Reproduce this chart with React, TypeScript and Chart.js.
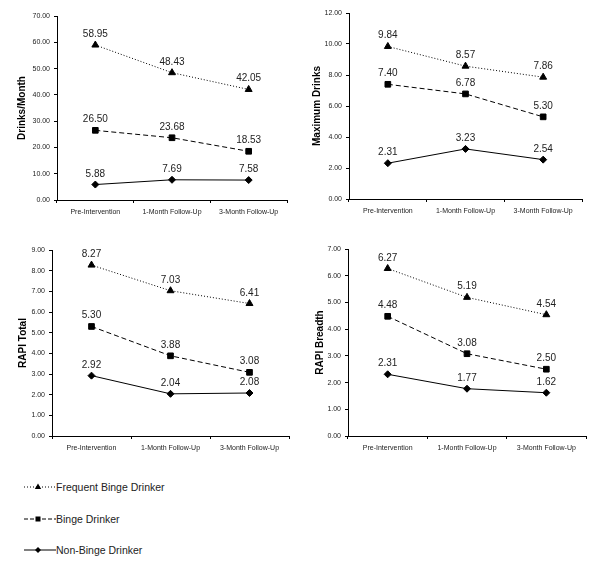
import React, { useEffect, useRef } from "react";
import { Chart, registerables } from "chart.js";
Chart.register(...registerables);

const categories = ["Pre-Intervention", "1-Month Follow-Up", "3-Month Follow-Up"];
const seriesNames = ["Frequent Binge Drinker", "Binge Drinker", "Non-Binge Drinker"];

const drinksFrequent = [58.95, 48.43, 42.05];
const drinksBinge = [26.5, 23.68, 18.53];
const drinksNon = [5.88, 7.69, 7.58];

const maxFrequent = [9.84, 8.57, 7.86];
const maxBinge = [7.4, 6.78, 5.3];
const maxNon = [2.31, 3.23, 2.54];

const rapiTotalFrequent = [8.27, 7.03, 6.41];
const rapiTotalBinge = [5.3, 3.88, 3.08];
const rapiTotalNon = [2.92, 2.04, 2.08];

const rapiBreadthFrequent = [6.27, 5.19, 4.54];
const rapiBreadthBinge = [4.48, 3.08, 2.5];
const rapiBreadthNon = [2.31, 1.77, 1.62];

const panelTitles = ["Drinks/Month", "Maximum Drinks", "RAPI Total", "RAPI Breadth"];
const panelMax = [70, 12, 9, 7];
const panelStep = [10, 2, 1, 1];
const panelData = [
  [drinksFrequent, drinksBinge, drinksNon],
  [maxFrequent, maxBinge, maxNon],
  [rapiTotalFrequent, rapiTotalBinge, rapiTotalNon],
  [rapiBreadthFrequent, rapiBreadthBinge, rapiBreadthNon],
];

// layout: canvas box and inner geometry (relative to canvas)
const panelLayout = [
  { left: 0, top: 0, w: 300, h: 230, yW: 57, xH: 30, padTop: 16, padRight: 13, titlePad: 16 },
  { left: 300, top: 0, w: 300, h: 230, yW: 49, xH: 31, padTop: 13, padRight: 18, titlePad: 11 },
  { left: 0, top: 235, w: 300, h: 230, yW: 52, xH: 29, padTop: 15, padRight: 11, titlePad: 17 },
  { left: 300, top: 235, w: 300, h: 230, yW: 48, xH: 29, padTop: 14, padRight: 14, titlePad: 14 },
];

const FONT = '"Liberation Sans", Arial, sans-serif';

const seriesStyle = [
  { dash: [1, 2], point: "triangle", radius: 4 },
  { dash: [5, 3], point: "rect", radius: 4 },
  { dash: [], point: "rectRot", radius: 3.5 },
];

const valueLabels = {
  id: "valueLabels",
  afterDatasetsDraw(chart: any) {
    const ctx = chart.ctx;
    ctx.save();
    ctx.font = `10px ${FONT}`;
    ctx.fillStyle = "#222";
    ctx.textAlign = "center";
    ctx.textBaseline = "alphabetic";
    chart.data.datasets.forEach((ds: any, i: number) => {
      chart.getDatasetMeta(i).data.forEach((pt: any, j: number) => {
        ctx.fillText(Number(ds.data[j]).toFixed(2), pt.x, pt.y - 8);
      });
    });
    ctx.restore();
  },
};

function Panel({ idx }: { idx: number }) {
  const ref = useRef<HTMLCanvasElement>(null);
  const lay = panelLayout[idx];
  useEffect(() => {
    const chart = new Chart(ref.current as HTMLCanvasElement, {
      type: "line",
      data: {
        labels: categories,
        datasets: panelData[idx].map((d, i) => ({
          label: seriesNames[i],
          data: d,
          borderColor: "#000",
          borderWidth: 1,
          borderDash: seriesStyle[i].dash,
          pointStyle: seriesStyle[i].point as any,
          pointRadius: seriesStyle[i].radius,
          pointBackgroundColor: "#000",
          pointBorderColor: "#000",
          pointBorderWidth: 1,
          tension: 0,
        })),
      },
      options: {
        responsive: false,
        animation: false,
        devicePixelRatio: 1,
        layout: { padding: { left: 0, top: lay.padTop, right: lay.padRight, bottom: 0 } },
        plugins: { legend: { display: false }, tooltip: { enabled: false } },
        scales: {
          x: {
            type: "category",
            offset: true,
            grid: { display: true, offset: true, drawOnChartArea: false, drawTicks: true, tickLength: 3, color: "#000" },
            border: { display: true, color: "#000", width: 1 },
            ticks: { font: { size: 7, family: FONT }, color: "#222", padding: 5, maxRotation: 0, autoSkip: false },
            afterFit: (s: any) => { s.height = lay.xH; },
          },
          y: {
            min: 0,
            max: panelMax[idx],
            grid: { display: true, drawOnChartArea: false, drawTicks: true, tickLength: 3, color: "#000" },
            border: { display: true, color: "#000", width: 1 },
            ticks: {
              stepSize: panelStep[idx],
              font: { size: 7, family: FONT },
              color: "#222",
              padding: 4,
              callback: (v: any) => Number(v).toFixed(2),
            },
            title: {
              display: true,
              text: panelTitles[idx],
              font: { size: 10, weight: "bold", family: FONT },
              color: "#000",
              padding: { top: lay.titlePad, bottom: 0 },
            },
            afterFit: (s: any) => { s.width = lay.yW; },
          },
        },
      },
      plugins: [valueLabels],
    } as any);
    return () => chart.destroy();
  }, [idx]);
  return (
    <canvas
      ref={ref}
      width={lay.w}
      height={lay.h}
      style={{ position: "absolute", left: lay.left, top: lay.top, width: lay.w, height: lay.h }}
    />
  );
}

const legendRowsY = [487, 519, 550];

function LegendMarker({ i }: { i: number }) {
  const dash = i === 0 ? "1,2" : i === 1 ? "4,2" : undefined;
  let marker;
  if (i === 0) marker = <polygon points="16,2.5 19.2,8 12.8,8" fill="#000" />;
  else if (i === 1) marker = <rect x={13.5} y={3.5} width={5} height={5} fill="#000" />;
  else marker = <polygon points="16,3 19,6 16,9 13,6" fill="#000" />;
  return (
    <svg width={36} height={12} style={{ position: "absolute", left: 22, top: -6 }}>
      <line x1={2} y1={6} x2={34} y2={6} stroke="#000" strokeWidth={1} strokeDasharray={dash} />
      {marker}
    </svg>
  );
}

export default function App() {
  return (
    <div style={{ position: "absolute", left: 0, top: 0, width: 600, height: 569, background: "#fff", overflow: "hidden" }}>
      {[0, 1, 2, 3].map((i) => (
        <Panel key={i} idx={i} />
      ))}
      {seriesNames.map((name, i) => (
        <div key={name} style={{ position: "absolute", left: 0, top: legendRowsY[i], width: 300, height: 0 }}>
          <LegendMarker i={i} />
          <span
            style={{
              position: "absolute",
              left: 56,
              top: -7,
              fontFamily: FONT,
              fontSize: 10.5,
              lineHeight: "14px",
              color: "#222",
              whiteSpace: "nowrap",
            }}
          >
            {name}
          </span>
        </div>
      ))}
    </div>
  );
}
